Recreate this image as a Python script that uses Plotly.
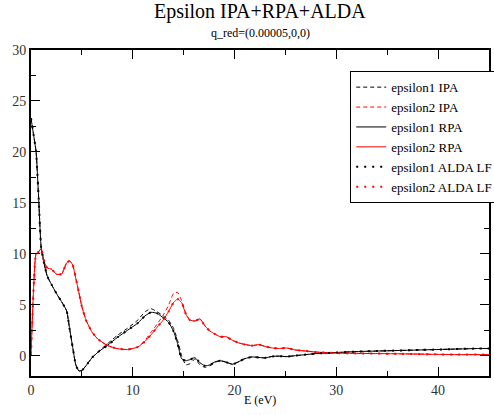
import plotly.graph_objects as go

E = [0, 0.25, 0.5, 0.75, 1.0, 1.3, 1.6, 2.0, 2.5, 3.0, 3.5, 3.8, 4.1, 4.4, 4.7, 5.0, 5.4, 6.0, 6.6, 7.5,
     8.5, 9.5, 10.5, 11.2, 11.8, 12.4, 13.0, 13.5, 14.0, 14.4, 14.8, 15.2, 15.6, 16.1, 16.6, 17.1, 17.6,
     18.1, 18.6, 19.2, 19.8, 20.4, 21.0, 21.7, 22.4, 23.0, 23.7, 24.4, 25.1, 26, 27, 28, 29, 30, 32, 34,
     36, 38, 40, 42, 44, 45]

eps1_rpa = [23.3, 21.7, 20.0, 15.5, 10.6, 9.0, 7.8, 7.0, 6.1, 5.3, 4.4, 2.6, 0.8, -0.9, -1.5, -1.45, -1.0,
            -0.2, 0.35, 1.0, 1.8, 2.5, 3.2, 3.9, 4.25, 4.15, 3.7, 3.3, 2.4, 1.2, -0.3, -0.5, -0.4, -0.2,
            -0.7, -1.0, -0.9, -0.6, -0.5, -0.65, -0.85, -0.6, -0.3, -0.13, -0.18, -0.22, -0.08, -0.05,
            -0.1, 0.0, 0.1, 0.2, 0.25, 0.3, 0.4, 0.45, 0.5, 0.55, 0.6, 0.65, 0.7, 0.7]

eps1_ipa = [23.3, 21.7, 20.0, 15.5, 10.6, 9.0, 7.8, 7.0, 6.1, 5.3, 4.4, 2.6, 0.8, -0.9, -1.5, -1.45, -1.0,
            -0.2, 0.4, 1.15, 2.0, 2.7, 3.5, 4.3, 4.6, 4.3, 3.9, 3.5, 2.7, 1.5, 0.0, -0.9, -0.8, -0.35,
            -0.9, -1.15, -1.0, -0.65, -0.5, -0.65, -0.85, -0.6, -0.3, -0.13, -0.18, -0.22, -0.08, -0.05,
            -0.1, 0.0, 0.1, 0.2, 0.25, 0.3, 0.4, 0.45, 0.5, 0.55, 0.6, 0.65, 0.7, 0.7]

eps1_alda = [23.3, 21.7, 20.0, 15.5, 10.6, 9.0, 7.8, 7.0, 6.1, 5.3, 4.4, 2.6, 0.8, -0.9, -1.5, -1.45, -1.0,
             -0.2, 0.35, 1.0, 1.8, 2.5, 3.2, 3.9, 4.25, 4.15, 3.7, 3.3, 2.4, 1.2, -0.3, -0.5, -0.4, -0.2,
             -0.7, -1.0, -0.9, -0.6, -0.5, -0.65, -0.85, -0.6, -0.3, -0.13, -0.18, -0.22, -0.08, -0.05,
             -0.1, 0.0, 0.1, 0.2, 0.25, 0.3, 0.4, 0.45, 0.5, 0.55, 0.6, 0.65, 0.7, 0.7]

eps2_rpa = [0, 6.5, 10.0, 10.2, 10.5, 9.2, 8.6, 8.5, 8.0, 8.0, 9.1, 9.3, 8.9, 7.6, 6.2, 4.8, 3.5, 2.3, 1.6,
            1.0, 0.68, 0.6, 0.85, 1.4, 2.05, 2.8, 3.5, 4.3, 5.2, 5.55, 5.2, 4.1, 3.5, 3.4, 3.6, 2.9, 2.4,
            2.1, 1.85, 1.85, 1.5, 1.25, 1.1, 0.98, 1.08, 0.9, 0.75, 0.7, 0.75, 0.55, 0.45, 0.35, 0.3, 0.25,
            0.22, 0.2, 0.18, 0.15, 0.12, 0.1, 0.1, 0.1]

eps2_ipa = [0, 6.5, 10.0, 10.2, 10.5, 9.2, 8.6, 8.5, 8.0, 8.0, 9.1, 9.3, 8.9, 7.6, 6.2, 4.8, 3.5, 2.3, 1.6,
            1.0, 0.68, 0.6, 0.85, 1.5, 2.3, 3.1, 4.0, 4.9, 6.1, 6.2, 5.4, 4.2, 3.5, 3.4, 3.6, 2.9, 2.4,
            2.1, 1.85, 1.85, 1.5, 1.25, 1.1, 0.98, 1.08, 0.9, 0.75, 0.7, 0.75, 0.55, 0.45, 0.35, 0.3, 0.25,
            0.22, 0.2, 0.18, 0.15, 0.12, 0.1, 0.1, 0.1]

eps2_alda = [0, 6.5, 10.0, 10.2, 10.5, 9.2, 8.6, 8.5, 8.0, 8.0, 9.1, 9.3, 8.9, 7.6, 6.2, 4.8, 3.5, 2.3, 1.6,
             1.0, 0.68, 0.6, 0.85, 1.4, 2.05, 2.8, 3.5, 4.3, 5.2, 5.55, 5.2, 4.1, 3.5, 3.4, 3.6, 2.9, 2.4,
             2.1, 1.85, 1.85, 1.5, 1.25, 1.1, 0.98, 1.08, 0.9, 0.75, 0.7, 0.75, 0.55, 0.45, 0.35, 0.3, 0.25,
             0.22, 0.2, 0.18, 0.15, 0.12, 0.1, 0.1, 0.1]

series = [
    ("epsilon1 IPA", eps1_ipa, "black", "4px,3px", 1),
    ("epsilon2 IPA", eps2_ipa, "red", "4px,3px", 1),
    ("epsilon1 RPA", eps1_rpa, "black", "solid", 1),
    ("epsilon2 RPA", eps2_rpa, "red", "solid", 1),
    ("epsilon1 ALDA LF", eps1_alda, "black", "2px,6px", 2),
    ("epsilon2 ALDA LF", eps2_alda, "red", "2px,6px", 2),
]

FONT = "Liberation Serif"

fig = go.Figure()
for name, vals, col, dash, w in series:
    fig.add_trace(go.Scatter(x=E, y=vals, mode="lines", name=name,
                             line=dict(color=col, dash=dash, width=w, shape="spline", smoothing=0.5)))

axis_common = dict(showline=True, linecolor="black", linewidth=2, mirror="ticks",
                   ticks="inside", ticklen=9, tickwidth=1, tickcolor="black",
                   showgrid=False, zeroline=False,
                   tickfont=dict(family=FONT, size=14, color="#333"))

fig.update_xaxes(range=[0, 45], dtick=10, tick0=0,
                 minor=dict(ticks="inside", ticklen=5, dtick=5, tickcolor="black", showgrid=False),
                 **axis_common)
fig.update_yaxes(range=[-2, 30], dtick=5, tick0=0,
                 minor=dict(ticks="inside", ticklen=5, dtick=2.5, tickcolor="black", showgrid=False),
                 **axis_common)

fig.add_annotation(text="Epsilon IPA+RPA+ALDA", x=0.5, y=1.118, xref="paper", yref="paper",
                   xanchor="center", yanchor="middle",
                   showarrow=False, font=dict(family=FONT, size=20, color="black"))
fig.add_annotation(text="q_red=(0.00005,0,0)", x=0.5, y=1.052, xref="paper", yref="paper",
                   xanchor="center", yanchor="middle",
                   showarrow=False, font=dict(family=FONT, size=12, color="black"))
fig.add_annotation(text="E (eV)", x=0.5, y=-0.074, xref="paper", yref="paper",
                   xanchor="center", yanchor="middle",
                   showarrow=False, font=dict(family=FONT, size=12, color="black"))

fig.update_layout(
    width=500, height=415,
    margin=dict(l=31, r=2, t=50, b=39),
    plot_bgcolor="white", paper_bgcolor="white",
    showlegend=True,
    legend=dict(x=0.697, y=0.935, xanchor="left", yanchor="top",
                bgcolor="white", bordercolor="black", borderwidth=1,
                font=dict(family=FONT, size=13, color="black"),
                itemwidth=30, tracegroupgap=0),
)

fig.write_html("out.html", post_script="document.body.style.overflow='hidden';document.documentElement.style.overflow='hidden';")
